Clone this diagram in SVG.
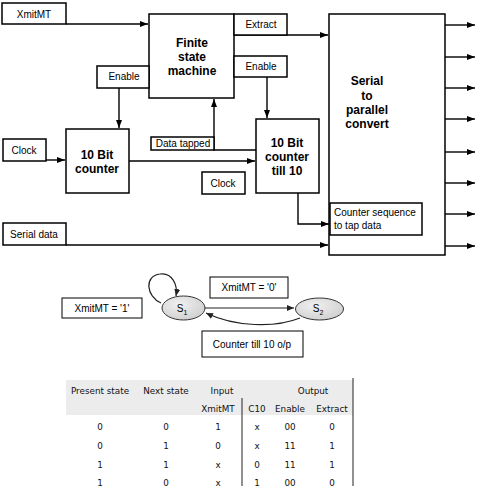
<svg xmlns="http://www.w3.org/2000/svg" width="477" height="488" viewBox="0 0 477 488">
<style>
.box{fill:#fff;stroke:#000;stroke-width:1.5}
.ln{fill:none;stroke:#000;stroke-width:1.4}
.t{font-family:"Liberation Sans",Arial,sans-serif;font-size:10px;fill:#000}
.b{font-family:"Liberation Sans",Arial,sans-serif;font-size:12px;font-weight:bold;fill:#000;text-anchor:middle}
.c{text-anchor:middle}
.st{fill:url(#g);stroke:#333;stroke-width:1}
.sl{fill:none;stroke:#222;stroke-width:1.2}
.tb{font-family:"DejaVu Sans","Liberation Sans",sans-serif;font-size:8.8px;fill:#111;text-anchor:middle}
</style>
<defs>
<marker id="a" markerWidth="8" markerHeight="6" refX="8" refY="3" orient="auto" markerUnits="userSpaceOnUse"><path d="M0,0 L8,3 L0,6 z" fill="#000"/></marker>
<marker id="s" markerWidth="7" markerHeight="6" refX="7" refY="3" orient="auto" markerUnits="userSpaceOnUse"><path d="M0,0 L7,3 L0,6 z" fill="#222"/></marker>
<radialGradient id="g" cx="0.4" cy="0.35" r="0.7"><stop offset="0" stop-color="#f0f0f0"/><stop offset="1" stop-color="#cfcfcf"/></radialGradient>
</defs>

<g id="connectors">
<path class="ln" d="M66,24 H148" marker-end="url(#a)"/>
<path class="ln" d="M234,35 H328" marker-end="url(#a)"/>
<path class="ln" d="M119,88 V128" marker-end="url(#a)"/>
<path class="ln" d="M267,77 V118" marker-end="url(#a)"/>
<path class="ln" d="M256,150 H214 V99" marker-end="url(#a)"/>
<path class="ln" d="M46,160 H65" marker-end="url(#a)"/>
<path class="ln" d="M129,161 H255" marker-end="url(#a)"/>
<path class="ln" d="M298,193 V224 H329" marker-end="url(#a)"/>
<path class="ln" d="M66,245 H328" marker-end="url(#a)"/>
<path class="ln" d="M445,25 H475" marker-end="url(#a)"/>
<path class="ln" d="M445,57 H475" marker-end="url(#a)"/>
<path class="ln" d="M445,88 H475" marker-end="url(#a)"/>
<path class="ln" d="M445,119 H475" marker-end="url(#a)"/>
<path class="ln" d="M445,152 H475" marker-end="url(#a)"/>
<path class="ln" d="M445,183 H475" marker-end="url(#a)"/>
<path class="ln" d="M445,214 H475" marker-end="url(#a)"/>
<path class="ln" d="M445,246 H475" marker-end="url(#a)"/>
</g>

<g id="xmitmt"><rect class="box" x="2" y="3" width="64" height="21"/><text class="t c" x="34" y="18">XmitMT</text></g>
<g id="fsm"><rect class="box" x="149" y="14" width="85" height="84"/>
<text class="b" x="192" y="47">Finite</text><text class="b" x="192" y="61">state</text><text class="b" x="192" y="75">machine</text></g>
<g id="extract"><rect class="box" x="234" y="14" width="53" height="21"/><text class="t c" x="261" y="28">Extract</text></g>
<g id="enable-r"><rect class="box" x="234" y="56" width="53" height="21"/><text class="t c" x="261" y="70">Enable</text></g>
<g id="enable-l"><rect class="box" x="97" y="66" width="52" height="22"/><text class="t c" x="124" y="80">Enable</text></g>
<g id="s2p"><rect class="box" x="329" y="14" width="116" height="241"/>
<text class="b" x="367" y="85">Serial</text><text class="b" x="367" y="100">to</text><text class="b" x="367" y="114">parallel</text><text class="b" x="367" y="128">convert</text></g>
<g id="clock-l"><rect class="box" x="3" y="139" width="43" height="22"/><text class="t c" x="24" y="154">Clock</text></g>
<g id="counter"><rect class="box" x="66" y="129" width="63" height="64"/>
<text class="b" x="97" y="159">10 Bit</text><text class="b" x="97" y="173">counter</text></g>
<g id="datatapped"><rect class="box" x="151" y="137" width="63" height="13"/><text class="t c" x="183" y="147">Data tapped</text></g>
<g id="counter10"><rect class="box" x="256" y="119" width="63" height="74"/>
<text class="b" x="287" y="147">10 Bit</text><text class="b" x="287" y="161">counter</text><text class="b" x="287" y="175">till 10</text></g>
<g id="clock-r"><rect class="box" x="202" y="172" width="43" height="22"/><text class="t c" x="223" y="187">Clock</text></g>
<g id="counterseq"><rect class="box" x="330" y="203" width="92" height="32"/>
<text class="t" x="334" y="216">Counter sequence</text><text class="t" x="334" y="229">to tap data</text></g>
<g id="serialdata"><rect class="box" x="3" y="223" width="63" height="22"/><text class="t c" x="34" y="238">Serial data</text></g>

<g id="fsm-connectors">
<path class="sl" d="M161,303 C146,296 144,276 160,274 C172,272 178,285 176,296" marker-end="url(#s)"/>
<path class="sl" d="M205,308 H294" marker-end="url(#s)"/>
<path class="sl" d="M300,318 C275,328 235,327 206,313" marker-end="url(#s)"/>
</g>
<g id="s1"><ellipse class="st" cx="183.5" cy="308" rx="21.5" ry="12"/><text class="t c" x="182" y="312">S<tspan font-size="7" dy="3">1</tspan></text></g>
<g id="s2"><ellipse class="st" cx="319.5" cy="309" rx="24" ry="11"/><text class="t c" x="318" y="312">S<tspan font-size="7" dy="3">2</tspan></text></g>
<g id="lbl1"><rect class="box" x="62" y="298" width="80" height="20" style="stroke-width:1"/><text class="t c" x="102" y="312">XmitMT = '1'</text></g>
<g id="lbl0"><rect class="box" x="210" y="277" width="78" height="21" style="stroke-width:1"/><text class="t c" x="249" y="291">XmitMT = '0'</text></g>
<g id="lblc"><rect class="box" x="202" y="331" width="101" height="26" style="stroke-width:1"/><text class="t c" x="252" y="348">Counter till 10 o/p</text></g>

<g id="table">
<rect x="66" y="380" width="287" height="35" fill="#ececec"/>
<line x1="353" y1="378" x2="353" y2="486" stroke="#222" stroke-width="1"/>
<line x1="242" y1="398" x2="242" y2="486" stroke="#222" stroke-width="1"/>
<text class="tb" x="100" y="394">Present state</text>
<text class="tb" x="166" y="394">Next state</text>
<text class="tb" x="222" y="394">Input</text>
<text class="tb" x="313" y="394">Output</text>
<text class="tb" x="218" y="412">XmitMT</text>
<text class="tb" x="257" y="412">C10</text>
<text class="tb" x="290" y="412">Enable</text>
<text class="tb" x="332" y="412">Extract</text>
<text class="tb" x="100" y="430">0</text><text class="tb" x="166" y="430">0</text><text class="tb" x="218" y="430">1</text><text class="tb" x="257" y="430">x</text><text class="tb" x="290" y="430">00</text><text class="tb" x="332" y="430">0</text>
<text class="tb" x="100" y="449">0</text><text class="tb" x="166" y="449">1</text><text class="tb" x="218" y="449">0</text><text class="tb" x="257" y="449">x</text><text class="tb" x="290" y="449">11</text><text class="tb" x="332" y="449">1</text>
<text class="tb" x="100" y="468">1</text><text class="tb" x="166" y="468">1</text><text class="tb" x="218" y="468">x</text><text class="tb" x="257" y="468">0</text><text class="tb" x="290" y="468">11</text><text class="tb" x="332" y="468">1</text>
<text class="tb" x="100" y="486">1</text><text class="tb" x="166" y="486">0</text><text class="tb" x="218" y="486">x</text><text class="tb" x="257" y="486">1</text><text class="tb" x="290" y="486">00</text><text class="tb" x="332" y="486">0</text>
</g>
</svg>
